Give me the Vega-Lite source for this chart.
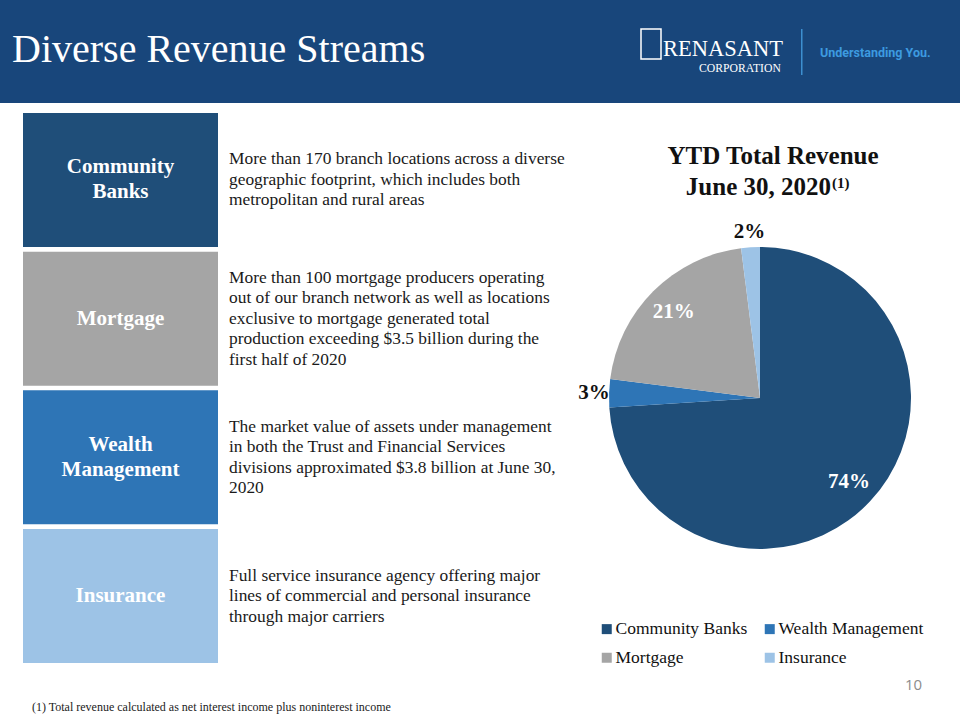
{
  "$schema": "https://vega.github.io/schema/vega-lite/v6.json",
  "padding": 0,
  "background": "white",
  "bounds": "full",
  "spacing": 0,
  "config": {
    "view": {"stroke": null},
    "font": "Liberation Serif",
    "concat": {"spacing": 0}
  },
  "datasets": {
    "revenue": [
      {"segment": "Community Banks", "rank": 1, "share": 0.74, "label": "Community\nBanks", "detail": "More than 170 branch locations across a diverse\ngeographic footprint, which includes both\nmetropolitan and rural areas"},
      {"segment": "Wealth Management", "rank": 2, "share": 0.03, "label": "Wealth\nManagement", "detail": "The market value of assets under management\nin both the Trust and Financial Services\ndivisions approximated $3.8 billion at June 30,\n2020"},
      {"segment": "Mortgage", "rank": 3, "share": 0.21, "label": "Mortgage", "detail": "More than 100 mortgage producers operating\nout of our branch network as well as locations\nexclusive to mortgage generated total\nproduction exceeding $3.5 billion during the\nfirst half of 2020"},
      {"segment": "Insurance", "rank": 4, "share": 0.02, "label": "Insurance", "detail": "Full service insurance agency offering major\nlines of commercial and personal insurance\nthrough major carriers"}
    ],
    "header": [
      {"part": "title", "text": "Diverse Revenue Streams"},
      {"part": "brand", "text": "RENASANT"},
      {"part": "corp", "text": "CORPORATION"},
      {"part": "tagline", "text": "Understanding You."},
      {"part": "emblem"},
      {"part": "divider"}
    ],
    "chartTitle": [
      {"role": "head", "text": "YTD Total Revenue"},
      {"role": "date", "text": "June 30, 2020"},
      {"role": "note", "text": "(1)"}
    ],
    "page": [{"page": "10"}],
    "notes": [{"note": "(1)  Total revenue calculated as net interest income plus noninterest income"}]
  },
  "resolve": {"scale": {"color": "independent"}, "legend": {"color": "independent"}},
  "vconcat": [
    {
      "width": 960,
      "height": 103,
      "view": {"fill": "#18467b"},
      "data": {"name": "header"},
      "resolve": {"scale": {"x": "independent", "y": "independent"}},
      "layer": [
        {
          "transform": [{"filter": "datum.part === 'title'"}],
          "mark": {"type": "text", "align": "left", "baseline": "alphabetic", "fontSize": 40, "color": "white"},
          "encoding": {
            "text": {"field": "text"},
            "x": {"field": "part", "type": "nominal", "axis": null, "bandPosition": 0, "scale": {"type": "band", "range": [12, 900], "paddingInner": 0, "paddingOuter": 0}},
            "y": {"field": "part", "type": "nominal", "axis": null, "bandPosition": 0, "scale": {"type": "band", "range": [62, 100], "paddingInner": 0, "paddingOuter": 0}}
          }
        },
        {
          "transform": [{"filter": "datum.part === 'brand'"}],
          "mark": {"type": "text", "align": "left", "baseline": "alphabetic", "fontSize": 22.5, "color": "white"},
          "encoding": {
            "text": {"field": "text"},
            "x": {"field": "part", "type": "nominal", "axis": null, "bandPosition": 0, "scale": {"type": "band", "range": [663, 790], "paddingInner": 0, "paddingOuter": 0}},
            "y": {"field": "part", "type": "nominal", "axis": null, "bandPosition": 0, "scale": {"type": "band", "range": [56, 70], "paddingInner": 0, "paddingOuter": 0}}
          }
        },
        {
          "transform": [{"filter": "datum.part === 'corp'"}],
          "mark": {"type": "text", "align": "left", "baseline": "alphabetic", "fontSize": 11.7, "color": "white"},
          "encoding": {
            "text": {"field": "text"},
            "x": {"field": "part", "type": "nominal", "axis": null, "bandPosition": 0, "scale": {"type": "band", "range": [699, 790], "paddingInner": 0, "paddingOuter": 0}},
            "y": {"field": "part", "type": "nominal", "axis": null, "bandPosition": 0, "scale": {"type": "band", "range": [72, 80], "paddingInner": 0, "paddingOuter": 0}}
          }
        },
        {
          "transform": [{"filter": "datum.part === 'tagline'"}],
          "mark": {"type": "text", "align": "left", "baseline": "alphabetic", "font": "Roboto", "fontWeight": "bold", "fontSize": 12.5, "color": "#3d9be0"},
          "encoding": {
            "text": {"field": "text"},
            "x": {"field": "part", "type": "nominal", "axis": null, "bandPosition": 0, "scale": {"type": "band", "range": [820, 950], "paddingInner": 0, "paddingOuter": 0}},
            "y": {"field": "part", "type": "nominal", "axis": null, "bandPosition": 0, "scale": {"type": "band", "range": [57, 70], "paddingInner": 0, "paddingOuter": 0}}
          }
        },
        {
          "transform": [{"filter": "datum.part === 'emblem'"}],
          "mark": {"type": "rect", "filled": false, "stroke": "white", "strokeWidth": 1.5},
          "encoding": {
            "x": {"field": "part", "type": "nominal", "axis": null, "scale": {"type": "band", "range": [641, 661], "paddingInner": 0, "paddingOuter": 0}},
            "y": {"field": "part", "type": "nominal", "axis": null, "scale": {"type": "band", "range": [29, 59], "paddingInner": 0, "paddingOuter": 0}}
          }
        },
        {
          "transform": [{"filter": "datum.part === 'divider'"}],
          "mark": {"type": "rect", "color": "#3d8fd0"},
          "encoding": {
            "x": {"field": "part", "type": "nominal", "axis": null, "scale": {"type": "band", "range": [801, 802.5], "paddingInner": 0, "paddingOuter": 0}},
            "y": {"field": "part", "type": "nominal", "axis": null, "scale": {"type": "band", "range": [29, 75], "paddingInner": 0, "paddingOuter": 0}}
          }
        }
      ]
    },
    {
      "spacing": 0,
      "bounds": "flush",
      "resolve": {"scale": {"color": "independent"}, "legend": {"color": "independent"}},
      "hconcat": [
        {
          "width": 583,
          "height": 590,
          "data": {"name": "revenue"},
          "encoding": {
            "y": {"field": "segment", "type": "nominal", "axis": null, "scale": {"type": "band", "domain": ["Community Banks", "Mortgage", "Wealth Management", "Insurance"], "range": [10, 560], "paddingInner": 0.034, "paddingOuter": 0}}
          },
          "layer": [
            {
              "mark": {"type": "rect"},
              "encoding": {
                "x": {"datum": "box", "type": "nominal", "axis": null, "scale": {"type": "band", "domain": ["box", "text"], "range": [23, 424], "paddingInner": 0.0534, "paddingOuter": 0}},
                "color": {"field": "segment", "type": "nominal", "legend": null, "scale": {"domain": ["Community Banks", "Wealth Management", "Mortgage", "Insurance"], "range": ["#1f4e79", "#2e75b6", "#a5a5a5", "#9dc3e6"]}}
              }
            },
            {
              "mark": {"type": "text", "color": "white", "fontWeight": "bold", "fontSize": 21, "lineBreak": "\n", "lineHeight": 25, "baseline": "middle", "align": "center", "dy": {"expr": "-12.5 * (length(split(datum.label, '\\n')) - 1)"}},
              "encoding": {
                "x": {"datum": "box", "type": "nominal", "bandPosition": 0.5},
                "text": {"field": "label"}
              }
            },
            {
              "mark": {"type": "text", "color": "#1a1a1a", "fontSize": 17.4, "lineBreak": "\n", "lineHeight": 20.5, "baseline": "middle", "align": "left", "dy": {"expr": "-10.25 * (length(split(datum.detail, '\\n')) - 1)"}},
              "encoding": {
                "x": {"datum": "text", "type": "nominal", "bandPosition": 0},
                "text": {"field": "detail"}
              }
            }
          ]
        },
        {
          "width": 354,
          "height": 590,
          "resolve": {"scale": {"x": "independent", "y": "independent"}},
          "layer": [
            {
              "data": {"name": "revenue"},
              "mark": {"type": "arc", "outerRadius": 151},
              "encoding": {
                "theta": {"field": "share", "type": "quantitative", "stack": true},
                "order": {"field": "rank", "type": "quantitative"},
                "color": {
                  "field": "segment", "type": "nominal",
                  "scale": {"domain": ["Community Banks", "Wealth Management", "Mortgage", "Insurance"], "range": ["#1f4e79", "#2e75b6", "#a5a5a5", "#9dc3e6"]},
                  "legend": {"orient": "none", "legendX": 15, "legendY": 517, "direction": "horizontal", "columns": 2, "title": null, "symbolType": "square", "symbolSize": 100, "symbolStrokeWidth": 0, "labelFontSize": 17.5, "labelFont": "Liberation Serif", "labelColor": "#111111", "labelOffset": 0, "columnPadding": 13, "rowPadding": 10, "padding": 0}
                }
              }
            },
            {
              "data": {"name": "revenue"},
              "mark": {"type": "text", "radius": {"expr": "datum.share >= 0.05 ? 122 : 166"}, "fontSize": 21, "fontWeight": "bold", "baseline": "middle", "align": "center"},
              "encoding": {
                "theta": {"field": "share", "type": "quantitative", "stack": true},
                "order": {"field": "rank", "type": "quantitative"},
                "detail": {"field": "segment"},
                "text": {"field": "share", "type": "quantitative", "format": ".0%"},
                "color": {"condition": {"test": "datum.share >= 0.05", "value": "white"}, "value": "#111111"}
              }
            },
            {
              "data": {"name": "chartTitle"},
              "transform": [{"filter": "datum.role === 'head'"}],
              "mark": {"type": "text", "fontSize": 25, "fontWeight": "bold", "baseline": "alphabetic", "align": "center", "color": "#111111"},
              "encoding": {
                "text": {"field": "text"},
                "x": {"field": "role", "type": "nominal", "axis": null, "bandPosition": 0, "scale": {"type": "band", "range": [190, 354], "paddingInner": 0, "paddingOuter": 0}},
                "y": {"field": "role", "type": "nominal", "axis": null, "bandPosition": 0, "scale": {"type": "band", "range": [61, 70], "paddingInner": 0, "paddingOuter": 0}}
              }
            },
            {
              "data": {"name": "chartTitle"},
              "transform": [{"filter": "datum.role === 'date'"}],
              "mark": {"type": "text", "fontSize": 25, "fontWeight": "bold", "baseline": "alphabetic", "align": "right", "color": "#111111"},
              "encoding": {
                "text": {"field": "text"},
                "x": {"field": "role", "type": "nominal", "axis": null, "bandPosition": 0, "scale": {"type": "band", "range": [248, 354], "paddingInner": 0, "paddingOuter": 0}},
                "y": {"field": "role", "type": "nominal", "axis": null, "bandPosition": 0, "scale": {"type": "band", "range": [92, 100], "paddingInner": 0, "paddingOuter": 0}}
              }
            },
            {
              "data": {"name": "chartTitle"},
              "transform": [{"filter": "datum.role === 'note'"}],
              "mark": {"type": "text", "fontSize": 15, "fontWeight": "bold", "baseline": "alphabetic", "align": "left", "color": "#111111"},
              "encoding": {
                "text": {"field": "text"},
                "x": {"field": "role", "type": "nominal", "axis": null, "bandPosition": 0, "scale": {"type": "band", "range": [249, 354], "paddingInner": 0, "paddingOuter": 0}},
                "y": {"field": "role", "type": "nominal", "axis": null, "bandPosition": 0, "scale": {"type": "band", "range": [85, 100], "paddingInner": 0, "paddingOuter": 0}}
              }
            },
            {
              "data": {"name": "page"},
              "mark": {"type": "text", "font": "Open Sans", "fontSize": 15, "color": "#8c8c8c", "align": "left", "baseline": "alphabetic"},
              "encoding": {
                "text": {"field": "page"},
                "x": {"field": "page", "type": "nominal", "axis": null, "bandPosition": 0, "scale": {"type": "band", "range": [322, 354], "paddingInner": 0, "paddingOuter": 0}},
                "y": {"field": "page", "type": "nominal", "axis": null, "bandPosition": 0, "scale": {"type": "band", "range": [587, 590], "paddingInner": 0, "paddingOuter": 0}}
              }
            }
          ]
        }
      ]
    },
    {
      "width": 960,
      "height": 27,
      "data": {"name": "notes"},
      "mark": {"type": "text", "align": "left", "baseline": "middle", "fontSize": 12, "color": "#222222"},
      "encoding": {
        "text": {"field": "note"},
        "x": {"field": "note", "type": "nominal", "axis": null, "bandPosition": 0, "scale": {"type": "band", "range": [32, 960], "paddingInner": 0, "paddingOuter": 0}}
      }
    }
  ]
}
